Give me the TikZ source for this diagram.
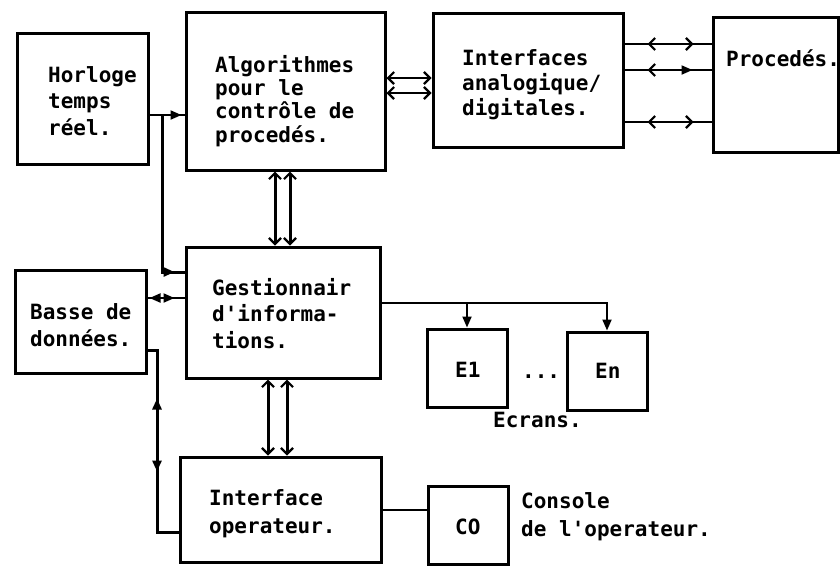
\documentclass[tikz,border=0pt]{standalone}
\usepackage{fontspec}
\newfontfamily\dotfont{DejaVu Sans Mono}
\usetikzlibrary{arrows.meta,decorations.markings,calc}
\begin{document}
\begin{tikzpicture}[x=1pt,y=-1pt,
  box/.style={draw,line width=3pt,inner sep=0pt},
  txt/.style={font=\dotfont\bfseries\fontsize{21}{26.5}\selectfont,align=left,anchor=base west,inner sep=0pt},
  conn/.style={line width=2pt},
  bar/.style={line width=3pt},
  barb/.tip={Straight Barb[length=6pt,width=12pt,line width=2.2pt]},
  fill tip/.tip={Triangle[length=11pt,width=9pt]},
]
\useasboundingbox (0,0) rectangle (840,566);

% boxes
\node[box,minimum width=131pt,minimum height=131pt] (hor) at (82.5,98.5) {};
\node[box,minimum width=199pt,minimum height=158pt] (alg) at (285.5,91) {};
\node[box,minimum width=190pt,minimum height=134pt] (inter) at (528,80) {};
\node[box,minimum width=125pt,minimum height=135pt] (proc) at (775.5,84.5) {};
\node[box,minimum width=194pt,minimum height=131pt] (gest) at (283,312.5) {};
\node[box,minimum width=131pt,minimum height=103pt] (bdd) at (80.5,321.5) {};
\node[box,minimum width=80pt,minimum height=78pt] (e1) at (467,368) {};
\node[box,minimum width=80pt,minimum height=78pt] (en) at (607,371) {};
\node[box,minimum width=201pt,minimum height=105pt] (iop) at (280.5,509.5) {};
\node[box,minimum width=80pt,minimum height=78pt] (co) at (468,525) {};

% texts (anchor = baseline of the last line)
\node[txt] (hor-t) at (48,135) {Horloge\\temps\\réel.};
\node[txt,font=\dotfont\bfseries\fontsize{21}{23.3}\selectfont] (alg-t) at (215,142) {Algorithmes\\pour le\\contrôle de\\procedés.};
\node[txt,font=\dotfont\bfseries\fontsize{21}{25}\selectfont] (inter-t) at (462,115) {Interfaces\\analogique/\\digitales.};
\node[txt] (proc-t) at (726,66) {Procedés.};
\node[txt] (gest-t) at (212,348) {Gestionnair\\d'informa-\\tions.};
\node[txt,font=\dotfont\bfseries\fontsize{21}{27}\selectfont] (bdd-t) at (30,346) {Basse de\\données.};
\node[txt] (e1-t) at (455,377) {E1};
\node[txt] (en-t) at (595,378) {En};
\node[txt] (dots) at (522,378) {...};
\node[txt] (ecr) at (493,427) {Ecrans.};
\node[txt,font=\dotfont\bfseries\fontsize{21}{28}\selectfont] (iop-t) at (209,533) {Interface\\operateur.};
\node[txt] (co-t) at (455,534) {CO};
\node[txt,font=\dotfont\bfseries\fontsize{21}{28}\selectfont] (cons) at (521,536) {Console\\de l'operateur.};

% Horloge -> Algorithmes
\draw[conn,postaction={decorate},decoration={markings,mark=at position -3pt with {\arrow{fill tip}}}]
  (hor.east |- 0,115) -- (alg.west |- 0,115);
% Horloge -> Gestionnair
\coordinate (j1) at (162,115);
\draw[bar,postaction={decorate},decoration={markings,mark=at position -10pt with {\arrow{fill tip}}}]
  (j1) |- (gest.west |- 0,272);
% Basse <-> Gestionnair
\draw[conn,postaction={decorate},decoration={markings,
    mark=at position 2pt with {\arrowreversed{fill tip}},
    mark=at position -10pt with {\arrow{fill tip}}}]
  (bdd.east |- 0,298) -- (gest.west |- 0,298);
% Basse <-> Interface operateur
\coordinate (k1) at (157,350);
\coordinate (k2) at (157,532);
\draw[bar,postaction={decorate},decoration={markings,
    mark=at position 58pt with {\arrowreversed{fill tip}},
    mark=at position 131pt with {\arrow{fill tip}}}]
  (bdd.east |- k1) -- (k1) -- (k2) -- (iop.west |- k2);

% Algorithmes <-> Interfaces
\draw[conn,{barb}-{barb}] (alg.east |- 0,78) -- (inter.west |- 0,78);
\draw[conn,{barb}-{barb}] (alg.east |- 0,93) -- (inter.west |- 0,93);

% Algorithmes <-> Gestionnair
\draw[bar,{barb}-{barb}] (alg.south -| 275,0) -- (gest.north -| 275,0);
\draw[bar,{barb}-{barb}] (alg.south -| 290,0) -- (gest.north -| 290,0);
% Gestionnair <-> Interface operateur
\draw[bar,{barb}-{barb}] (gest.south -| 268,0) -- (iop.north -| 268,0);
\draw[bar,{barb}-{barb}] (gest.south -| 287,0) -- (iop.north -| 287,0);

% Interfaces <-> Procedes
\draw[conn,postaction={decorate},decoration={markings,
    mark=at position 23pt with {\arrowreversed{barb}},
    mark=at position -18pt with {\arrow{barb}}}]
  (inter.east |- 0,44) -- (proc.west |- 0,44);
\draw[conn,postaction={decorate},decoration={markings,
    mark=at position 23pt with {\arrowreversed{barb}},
    mark=at position -19pt with {\arrow{fill tip}}}]
  (inter.east |- 0,70) -- (proc.west |- 0,70);
\draw[conn,postaction={decorate},decoration={markings,
    mark=at position 23pt with {\arrowreversed{barb}},
    mark=at position -18pt with {\arrow{barb}}}]
  (inter.east |- 0,122) -- (proc.west |- 0,122);

% Gestionnair -> ecrans
\draw[conn,-{fill tip}] (gest.east |- 0,303) -| (en.north);
\draw[conn,-{fill tip}] (e1.north |- 0,303) -- (e1.north);

% Interface operateur -- CO
\draw[conn] (iop.east |- 0,510) -- (co.west |- 0,510);
\end{tikzpicture}
\end{document}
